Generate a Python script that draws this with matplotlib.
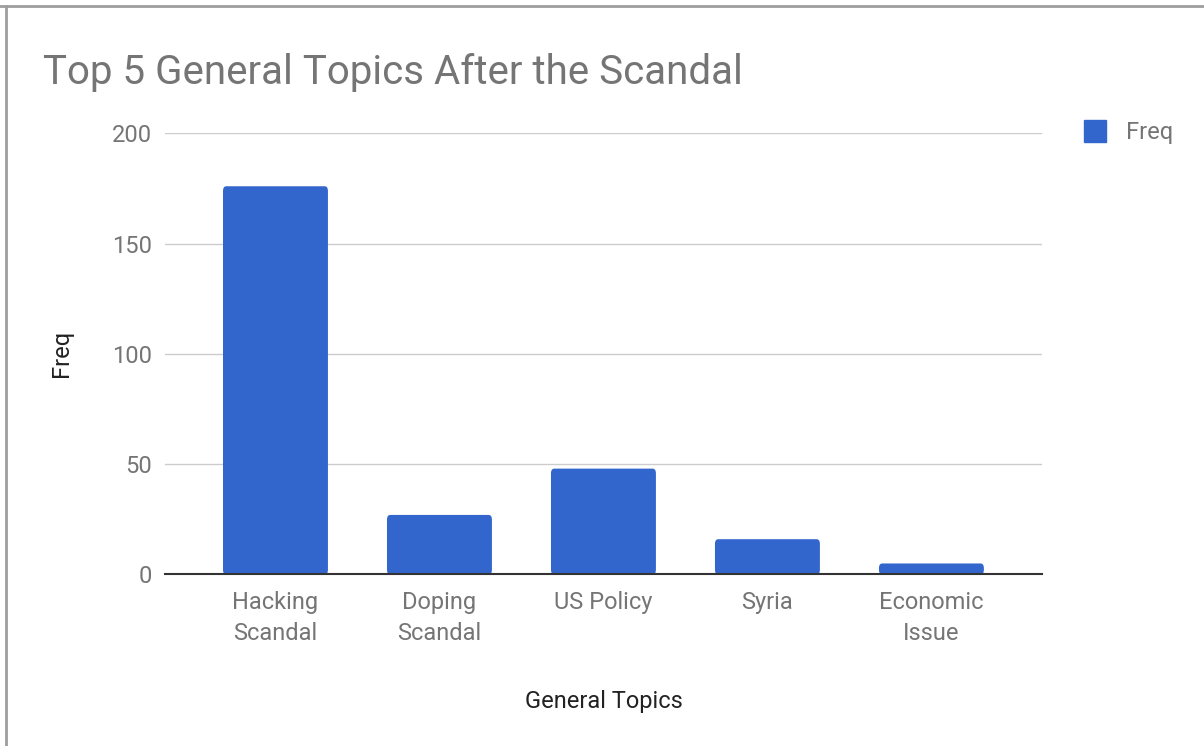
import matplotlib
matplotlib.use('Agg')

import matplotlib.pyplot as plt
from matplotlib.patches import FancyBboxPatch
from matplotlib.lines import Line2D

TOPICS = ['Hacking\nScandal', 'Doping\nScandal', 'US Policy', 'Syria',
          'Economic\nIssue']
FREQ = [176, 27, 48, 16, 5]
YTICKS = [0, 50, 100, 150, 200]

BAR_COLOR = '#3366cc'
GREY_TEXT = '#757575'
DARK_TEXT = '#222222'

plt.rcParams['font.family'] = ['Roboto', 'DejaVu Sans']

fig = plt.figure(figsize=(12.04, 7.46), dpi=100)
ax = fig.add_axes([0.137, 0.2299, 0.7284, 0.5914])

positions = list(range(len(TOPICS)))
bars = ax.bar(positions, FREQ, width=0.64, color=BAR_COLOR, zorder=3,
              label='Freq')

# soften the top corners of each bar a little
for b in bars:
    b.set_visible(False)
    x, w, h = b.get_x(), b.get_width(), b.get_height()
    patch = FancyBboxPatch((x, 0), w, h,
                           boxstyle='round,pad=0,rounding_size=0.02',
                           mutation_aspect=110,
                           fc=BAR_COLOR, ec='none', zorder=3)
    ax.add_patch(patch)

ax.set_xlim(-0.674, 4.674)
ax.set_ylim(0, 200)
ax.set_yticks(YTICKS)
ax.set_xticks(positions)
ax.set_xticklabels(TOPICS)

ax.grid(axis='y', color='#cccccc', linewidth=1, zorder=0)
for side in ('top', 'right', 'left'):
    ax.spines[side].set_visible(False)
ax.spines['bottom'].set_color('#333333')
ax.spines['bottom'].set_linewidth(1.5)
ax.spines['bottom'].set_zorder(4)

ax.tick_params(axis='both', length=0, labelsize=17, labelcolor=GREY_TEXT)
ax.tick_params(axis='y', pad=9.5)
ax.tick_params(axis='x', pad=12)
for lbl in ax.get_xticklabels():
    lbl.set_linespacing(1.45)

ax.set_xlabel('General Topics', fontsize=17, color=DARK_TEXT, labelpad=32)
ax.set_ylabel('Freq', fontsize=17, color=DARK_TEXT, labelpad=28)

fig.text(0.0357, 0.903, 'Top 5 General Topics After the Scandal',
         fontsize=29, color=GREY_TEXT, va='center', ha='left')

# legend at the upper right, outside the plot area
handle = Line2D([], [], marker='s', linestyle='none', markersize=16,
                markerfacecolor=BAR_COLOR, markeredgecolor=BAR_COLOR)
leg = fig.legend([handle], ['Freq'], loc='center left',
                 bbox_to_anchor=(0.8824, 0.822), frameon=False,
                 fontsize=17, handletextpad=0.3, borderaxespad=0)
for t in leg.get_texts():
    t.set_color(GREY_TEXT)

# thin frame on the top and left edges
fig.add_artist(Line2D([0, 1], [0.9915, 0.9915], transform=fig.transFigure,
                      color='#9e9e9e', linewidth=2))
fig.add_artist(Line2D([0.0046, 0.0046], [0, 0.9915],
                      transform=fig.transFigure, color='#9e9e9e',
                      linewidth=2))

fig.savefig('out.png', dpi=100, facecolor='white')
